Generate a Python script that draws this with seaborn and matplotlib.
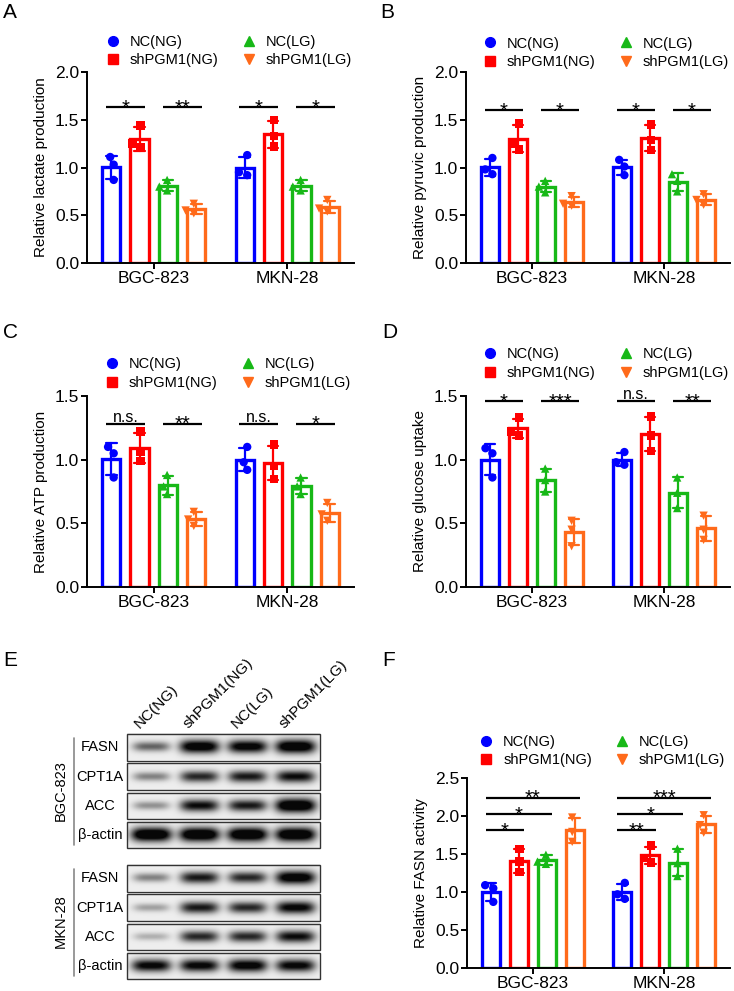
import numpy as np
import pandas as pd
import seaborn as sns
import matplotlib.pyplot as plt
from matplotlib.lines import Line2D
from matplotlib.patches import Rectangle
from matplotlib.ticker import FormatStrFormatter

######### data #########
CELLS = ["BGC-823", "MKN-28"]
GROUPS = ["NC(NG)", "shPGM1(NG)", "NC(LG)", "shPGM1(LG)"]
COLORS = ["#0000ff", "#ff0000", "#17b817", "#ff6a1a"]
MARKERS = ["o", "s", "^", "v"]

# three replicates per group, groups in GROUPS order
lactate_bgc = [[1.11, 1.03, 0.87], [1.44, 1.25, 1.21], [0.87, 0.80, 0.76], [0.62, 0.55, 0.52]]
lactate_mkn = [[1.13, 0.95, 0.92], [1.50, 1.33, 1.22], [0.87, 0.80, 0.76], [0.66, 0.57, 0.54]]
pyruvic_bgc = [[1.10, 0.98, 0.93], [1.46, 1.25, 1.19], [0.86, 0.80, 0.74], [0.70, 0.62, 0.60]]
pyruvic_mkn = [[1.08, 1.01, 0.92], [1.45, 1.29, 1.18], [0.93, 0.86, 0.75], [0.72, 0.66, 0.61]]
atp_bgc = [[1.10, 1.05, 0.86], [1.22, 1.06, 0.99], [0.88, 0.79, 0.73], [0.59, 0.53, 0.48]]
atp_mkn = [[1.10, 0.98, 0.92], [1.12, 0.95, 0.85], [0.86, 0.79, 0.73], [0.66, 0.57, 0.52]]
glucose_bgc = [[1.09, 1.05, 0.86], [1.33, 1.22, 1.19], [0.93, 0.84, 0.75], [0.52, 0.45, 0.32]]
glucose_mkn = [[1.06, 0.98, 0.96], [1.34, 1.19, 1.07], [0.86, 0.74, 0.62], [0.56, 0.45, 0.37]]
fasn_bgc = [[1.09, 1.05, 0.87], [1.57, 1.40, 1.26], [1.49, 1.40, 1.37], [1.98, 1.79, 1.66]]
fasn_mkn = [[1.12, 0.97, 0.91], [1.61, 1.45, 1.39], [1.57, 1.38, 1.21], [2.01, 1.88, 1.78]]

# significance: (cell index, group a, group b, height, label)
lactate_sig = [(0, 0, 1, 1.63, "*"), (0, 2, 3, 1.63, "**"), (1, 0, 1, 1.63, "*"), (1, 2, 3, 1.63, "*")]
pyruvic_sig = [(0, 0, 1, 1.60, "*"), (0, 2, 3, 1.60, "*"), (1, 0, 1, 1.60, "*"), (1, 2, 3, 1.60, "*")]
atp_sig = [(0, 0, 1, 1.28, "n.s."), (0, 2, 3, 1.28, "**"), (1, 0, 1, 1.28, "n.s."), (1, 2, 3, 1.28, "*")]
glucose_sig = [(0, 0, 1, 1.46, "*"), (0, 2, 3, 1.46, "***"), (1, 0, 1, 1.46, "n.s."), (1, 2, 3, 1.46, "**")]
fasn_sig = [(0, 0, 1, 1.81, "*"), (0, 0, 2, 2.02, "*"), (0, 0, 3, 2.24, "**"),
            (1, 0, 1, 1.81, "**"), (1, 0, 2, 2.02, "*"), (1, 0, 3, 2.24, "***")]

# western blot band darkness (0 = none, 1 = saturated), lanes in GROUPS order
PROTEINS = ["FASN", "CPT1A", "ACC", "β-actin"]
blot_bgc = [[0.45, 0.90, 0.85, 0.95], [0.35, 0.65, 0.70, 0.75], [0.30, 0.75, 0.70, 1.00], [1.00, 1.00, 1.00, 1.00]]
blot_mkn = [[0.35, 0.70, 0.65, 0.90], [0.25, 0.70, 0.65, 0.80], [0.20, 0.65, 0.65, 0.75], [0.80, 0.80, 0.85, 0.80]]

######### style #########
sns.set_theme(style="ticks")
plt.rcParams["font.family"] = ["Liberation Sans", "DejaVu Sans"]
plt.rcParams.update({
    "axes.linewidth": 1.4, "xtick.major.width": 1.4, "ytick.major.width": 1.4,
    "xtick.major.size": 4, "ytick.major.size": 4,
    "xtick.labelsize": 12.5, "ytick.labelsize": 12.5, "axes.labelsize": 11,
    "xtick.color": "black", "ytick.color": "black", "axes.edgecolor": "black",
    "text.color": "black", "axes.labelcolor": "black",
})

W = 0.85
PAL = dict(zip(GROUPS, COLORS))


def to_frame(bgc, mkn):
    rows = []
    for cell, vals in zip(CELLS, [bgc, mkn]):
        for g, reps in zip(GROUPS, vals):
            for v in reps:
                rows.append({"cell": cell, "group": g, "value": v})
    return pd.DataFrame(rows)


def bar_panel(ax, bgc, mkn, ylabel, ymax, sig, anchor):
    df = to_frame(bgc, mkn)
    sns.barplot(data=df, x="cell", y="value", hue="group", order=CELLS, hue_order=GROUPS,
                palette=PAL, saturation=1, fill=False, width=W, gap=0.36, errorbar="sd",
                capsize=0.32, err_kws={"linewidth": 1.6}, linewidth=2.4, legend=False, ax=ax)
    for g, m in zip(GROUPS, MARKERS):
        sns.swarmplot(data=df[df["group"] == g], x="cell", y="value", hue="group", order=CELLS,
                      hue_order=GROUPS, palette=PAL, dodge=True, marker=m, size=6,
                      legend=False, zorder=3, ax=ax)
    # swarmplot dodges with width .8, stretch to the bar width
    for coll in ax.collections:
        off = coll.get_offsets()
        if len(off):
            c = np.round(off[:, 0])
            off[:, 0] = c + (off[:, 0] - c) * W / 0.8
            coll.set_offsets(off)

    step = W / len(GROUPS)
    for cell, a, b, y, label in sig:
        xa = cell + (a - 1.5) * step - 0.04
        xb = cell + (b - 1.5) * step + 0.04
        ax.plot([xa, xb], [y, y], color="black", lw=1.6, solid_capstyle="butt")
        star = "*" in label
        ax.annotate(label, ((xa + xb) / 2, y), xytext=(0, -4.5 if star else 1.5),
                    textcoords="offset points", ha="center", va="baseline",
                    fontsize=14.5 if star else 11.5)

    ax.set_xlim(-0.5, 1.5)
    ax.set_ylim(0, ymax)
    ax.set_yticks(np.arange(0, ymax + 0.01, 0.5))
    ax.yaxis.set_major_formatter(FormatStrFormatter("%.1f"))
    ax.set_xlabel("")
    ax.set_ylabel(ylabel, labelpad=5)
    ax.tick_params(axis="both", pad=1.5)
    sns.despine(ax=ax)

    handles = [Line2D([], [], marker=m, color=c, ls="none", markersize=7)
               for m, c in zip(MARKERS, COLORS)]
    ax.legend(handles, GROUPS, ncol=2, loc="lower left", bbox_to_anchor=anchor,
              frameon=False, fontsize=10.5, handlelength=1.0, handletextpad=0.65,
              columnspacing=1.55, labelspacing=0.3, borderpad=0, borderaxespad=0)


def band_image(dark, ny=27, nx=193):
    yy = np.linspace(-1, 1, ny)[:, None]
    xx = np.linspace(0, 4, nx)[None, :]
    img = np.full((ny, nx), 0.07)
    for i, d in enumerate(dark):
        half = 0.36 + 0.06 * d
        prof_x = np.exp(-np.abs((xx - i - 0.5) / half) ** 4)
        prof_y = np.exp(-(yy / (0.24 + 0.30 * d)) ** 2)
        img = img + 1.25 * d * prof_x * prof_y
    return 1 - np.clip(img, 0, 1) * 0.97


def blot_panel(ax):
    x0, x1 = 127, 320
    h, pitch = 26.5, 29.3
    for block_top, vals, cell in [(734, blot_bgc, "BGC-823"), (865, blot_mkn, "MKN-28")]:
        for r, (prot, dark) in enumerate(zip(PROTEINS, vals)):
            top = block_top + r * pitch
            ax.imshow(band_image(dark), cmap="gray", vmin=0, vmax=1,
                      extent=(x0, x1, top + h, top), aspect="auto", interpolation="bilinear")
            ax.add_patch(Rectangle((x0, top), x1 - x0, h, fill=False, ec="#333333", lw=1))
            ax.text(100, top + h / 2, prot, ha="center", va="center", fontsize=10.5)
        ax.plot([74, 74], [block_top + 4, block_top + 4 * pitch - 6], color="#888888", lw=1.2)
        ax.text(61, block_top + 2 * pitch - 2, cell, rotation=90, ha="center", va="center", fontsize=10.5)
    for i, g in enumerate(GROUPS):
        ax.text(x0 + (i + 0.5) * (x1 - x0) / 4 - 9, 731, g, rotation=45,
                rotation_mode="anchor", ha="left", va="bottom", fontsize=11)
    ax.set_xlim(0, 367)
    ax.set_ylim(991, 640)
    ax.axis("off")


######### figure #########
fig = plt.figure(figsize=(7.34, 9.91), dpi=100)


def px_axes(left, top, right, bottom):
    return fig.add_axes([left / 734, 1 - bottom / 991, (right - left) / 734, (bottom - top) / 991])


axA = px_axes(87, 72, 354, 263)
axB = px_axes(466, 72, 730, 263)
axC = px_axes(87, 396, 354, 587)
axD = px_axes(466, 396, 730, 587)
axF = px_axes(467, 778, 730, 968)
axE = fig.add_axes([0, 0, 367 / 734, 351 / 991])

bar_panel(axA, lactate_bgc, lactate_mkn, "Relative lactate production", 2.0, lactate_sig, (0.071, 1.026))
bar_panel(axB, pyruvic_bgc, pyruvic_mkn, "Relative pyruvic production", 2.0, pyruvic_sig, (0.064, 1.016))
bar_panel(axC, atp_bgc, atp_mkn, "Relative ATP production", 1.5, atp_sig, (0.067, 1.033))
bar_panel(axD, glucose_bgc, glucose_mkn, "Relative glucose uptake", 1.5, glucose_sig, (0.064, 1.085))
bar_panel(axF, fasn_bgc, fasn_mkn, "Relative FASN activity", 2.5, fasn_sig, (0.046, 1.058))
blot_panel(axE)

for letter, (x, y) in zip("ABCDEF", [(3, 3), (380, 3), (3, 323), (382, 323), (3, 651), (382, 651)]):
    fig.text(x / 734, 1 - y / 991, letter, fontsize=15, ha="left", va="top")

fig.savefig("out.png", dpi=100)
